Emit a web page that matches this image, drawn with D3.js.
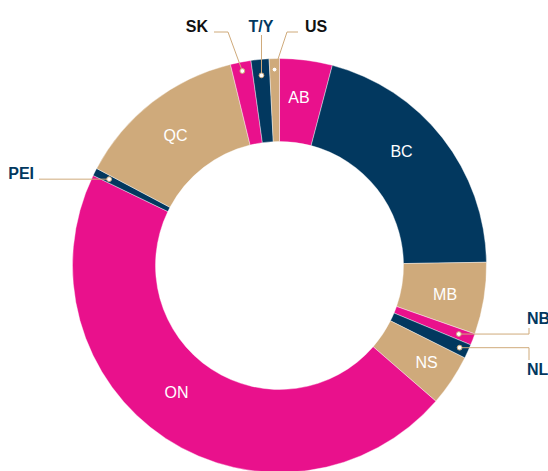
<!DOCTYPE html>
<html>
<head>
<meta charset="utf-8">
<script src="https://cdn.jsdelivr.net/npm/d3@7/dist/d3.min.js"></script>
<style>
  html, body { margin: 0; padding: 0; background: #fff; }
  svg { display: block; }
  text { font-family: "Liberation Sans", Arial, Helvetica, sans-serif; }
</style>
</head>
<body>
<div id="chart"></div>
<script>
// data: share by region (%), clockwise from 12 o'clock
var regions = ["AB", "BC", "MB", "NB", "NL", "NS", "ON", "PEI", "QC", "SK", "T/Y", "US"]
var shares  = [4.1, 20.6, 5.6, 0.9, 1.1, 4.0, 45.7, 0.6, 13.4, 1.6, 1.4, 0.8]
var insideLabels  = ["AB", "BC", "MB", "NS", "ON", "QC"]
var outsideLabels = ["NB", "NL", "PEI", "SK", "T/Y", "US"]

var width = 548, height = 471
var cx = 279.5, cy = 265.5
var outerR = 207, innerR = 124

var palette = ["#e9118c", "#02385f", "#cfaa7b"]
var pink = palette[0], navy = palette[1], tan = palette[2]

// small tweaks for inside label spots (deg, px)
var nudge = {AB: [-0.8, 169], BC: [-5, 167], MB: [0.5, 168], NS: [-0.4, 176], ON: [5.8, 163], QC: [-0.6, 167]}

// callout routing: dot radius, elbow + label spot
var callout = {
  "SK":  {r: 198, path: function(p){ return [p, [228, 32], [214, 32]] }, lx: 208, ly: 32, anchor: "end",    color: "#111"},
  "T/Y": {r: 191, path: function(p){ return [p, [p[0], 35]] },          lx: 261, ly: 32, anchor: "middle", color: navy},
  "US":  {r: 196, path: function(p){ return [p, [287, 32], [298, 32]] }, lx: 305, ly: 32, anchor: "start",  color: "#111"},
  "PEI": {r: 191, path: function(p){ return [p, [39, p[1]]] },           lx: 34,  ly: 179, anchor: "end",   color: navy},
  "NB":  {r: 192, path: function(p){ return [p, [529, p[1]], [529, 328]] }, lx: 527, ly: 324, anchor: "start", color: navy},
  "NL":  {r: 198, path: function(p){ return [p, [529, p[1]], [529, 360]] }, lx: 527, ly: 375, anchor: "start", color: navy}
}

var rows = regions.map(function(k, i){ return {key: k, value: shares[i], idx: i} })

var svg = d3.select("#chart").append("svg")
  .attr("width", width)
  .attr("height", height)

var g = svg.append("g").attr("transform", "translate(" + cx + "," + cy + ")")

var pie = d3.pie().sort(null).value(function(d){ return d.value })
var arcs = pie(rows)

var arc = d3.arc().innerRadius(innerR).outerRadius(outerR)

g.selectAll("path.slice").data(arcs).enter()
  .append("path")
  .attr("class", "slice")
  .attr("d", arc)
  .style("fill", function(d){ return palette[d.data.idx % 3] })
  .style("stroke", "#fff")
  .style("stroke-width", 0.4)

function polar(a, r){ return [Math.sin(a) * r, -Math.cos(a) * r] }
function midAngle(d){ return (d.startAngle + d.endAngle) / 2 }

// inside labels
g.selectAll("text.inside").data(arcs.filter(function(d){ return insideLabels.indexOf(d.data.key) > -1 }))
  .enter().append("text")
  .attr("class", "inside")
  .attr("x", function(d){ var n = nudge[d.data.key]; return polar(midAngle(d) + n[0] * Math.PI / 180, n[1])[0] })
  .attr("y", function(d){ var n = nudge[d.data.key]; return polar(midAngle(d) + n[0] * Math.PI / 180, n[1])[1] })
  .attr("dy", "0.36em")
  .attr("text-anchor", "middle")
  .style("fill", "#fff")
  .style("font-size", "16px")
  .text(function(d){ return d.data.key })

// callouts for the thin slices
var small = arcs.filter(function(d){ return outsideLabels.indexOf(d.data.key) > -1 })
var line = d3.line()

small.forEach(function(d){
  var c = callout[d.data.key]
  var p = polar(midAngle(d), c.r)
  p = [p[0] + cx, p[1] + cy]
  svg.append("path")
    .attr("d", line(c.path(p)))
    .style("fill", "none")
    .style("stroke", tan)
    .style("stroke-width", 1)
  svg.append("circle")
    .attr("cx", p[0]).attr("cy", p[1]).attr("r", 2.4)
    .style("fill", "#fff")
    .style("stroke", tan)
    .style("stroke-width", 1)
  svg.append("text")
    .attr("x", c.lx).attr("y", c.ly)
    .attr("text-anchor", c.anchor)
    .style("fill", c.color)
    .style("font-size", "16px")
    .style("font-weight", "bold")
    .text(d.data.key)
})
</script>
</body>
</html>
